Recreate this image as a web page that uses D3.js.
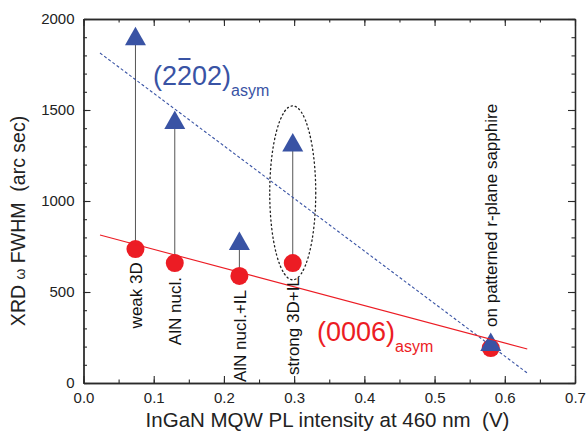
<!DOCTYPE html>
<html><head><meta charset="utf-8">
<script src="https://cdn.jsdelivr.net/npm/d3@7"></script>
<style>
html,body{margin:0;padding:0;background:#fff;}
svg{display:block;font-family:"Liberation Sans",Arial,Helvetica,sans-serif;}
</style></head>
<body>
<svg id="chart" width="586" height="440"></svg>
<script>
// ---- data ----
const samples = ["weak 3D", "AlN nucl.", "AlN nucl.+IL", "strong 3D+IL", "on patterned r-plane sapphire"];
const plIntensity = [0.074, 0.130, 0.222, 0.298, 0.580];
const fwhm0006 = [736, 659, 588, 659, 192];
const fwhm2202 = [1905, 1445, 780, 1321, 225];
const labelBottomValue = [300, 208, 5, 44, 308];   // y value where each rotated label starts
const fit0006 = [[0.0235, 813], [0.632, 187]];
const fit2202 = [[0.0235, 1813], [0.632, 55]];
const xTicks = [0, 0.1, 0.2, 0.3, 0.4, 0.5, 0.6, 0.7];
const xTickLabels = ["0.0", "0.1", "0.2", "0.3", "0.4", "0.5", "0.6", "0.7"];
const yTicks = [0, 500, 1000, 1500, 2000];
const highlightSample = 3;

const svg = d3.select("#chart");
const M = {left: 83.5, right: 575, top: 19, bottom: 383};
const x = d3.scaleLinear().domain([0, 0.7]).range([M.left, M.right]);
const y = d3.scaleLinear().domain([0, 2000]).range([M.bottom, M.top]);
const RED = "#ec1c24", BLUE = "#3953a4", AX = "#2a2a2a";

// ---- axes ----
function styleAxis(g){ g.select(".domain").attr("stroke", AX).attr("stroke-width", 1.3);
  g.selectAll(".tick line").attr("stroke", AX).attr("stroke-width", 1.1);
  g.selectAll("text").attr("fill", "#222").style("font-size", "15px").attr("font-family", null); }
const xMinor = d3.range(0, 0.7001, 0.05), yMinor = d3.range(0, 2000.1, 100);

svg.append("g").attr("transform", `translate(0,${M.bottom})`)
  .call(d3.axisBottom(x).tickValues(xMinor).tickSize(-3.5).tickFormat("").tickSizeOuter(0)).call(styleAxis);
svg.append("g").attr("transform", `translate(0,${M.bottom})`)
  .call(d3.axisBottom(x).tickValues(xTicks).tickSize(-7).tickPadding(9).tickFormat((d,i)=>xTickLabels[i]).tickSizeOuter(0)).call(styleAxis);
svg.append("g").attr("transform", `translate(0,${M.top})`)
  .call(d3.axisTop(x).tickValues(xMinor).tickSize(-3.5).tickFormat("").tickSizeOuter(0)).call(styleAxis);
svg.append("g").attr("transform", `translate(0,${M.top})`)
  .call(d3.axisTop(x).tickValues(xTicks).tickSize(-7).tickFormat("").tickSizeOuter(0)).call(styleAxis);
svg.append("g").attr("transform", `translate(${M.left},0)`)
  .call(d3.axisLeft(y).tickValues(yMinor).tickSize(-3.5).tickFormat("").tickSizeOuter(0)).call(styleAxis);
svg.append("g").attr("transform", `translate(${M.left},0)`)
  .call(d3.axisLeft(y).tickValues(yTicks).tickSize(-7).tickPadding(9).tickFormat(d3.format("d")).tickSizeOuter(0)).call(styleAxis);
svg.append("g").attr("transform", `translate(${M.right},0)`)
  .call(d3.axisRight(y).tickValues(yMinor).tickSize(-3.5).tickFormat("").tickSizeOuter(0)).call(styleAxis);
svg.append("g").attr("transform", `translate(${M.right},0)`)
  .call(d3.axisRight(y).tickValues(yTicks).tickSize(-7).tickFormat("").tickSizeOuter(0)).call(styleAxis);

// axis titles
svg.append("text").attr("x", 327.5).attr("y", 427)
  .attr("text-anchor", "middle").style("font-size", "20.5px").attr("fill", "#222")
  .text("InGaN MQW PL intensity at 460 nm\u00a0\u00a0(V)");
const yt = svg.append("text").attr("transform", `translate(25,${(M.top + M.bottom) / 2 + 20}) rotate(-90)`)
  .attr("text-anchor", "middle").style("font-size", "19.5px").attr("fill", "#222");
yt.append("tspan").text("XRD ");
yt.append("tspan").style("font-size", "14px").text("\u03c9");
yt.append("tspan").text(" FWHM\u00a0\u00a0(arc sec)");

// ---- connectors ----
const plot = svg.append("g");
plot.selectAll("line.conn").data(plIntensity).join("line").attr("class", "conn")
  .attr("x1", d => x(d)).attr("x2", d => x(d))
  .attr("y1", (d, i) => y(fwhm0006[i])).attr("y2", (d, i) => y(fwhm2202[i]))
  .attr("stroke", "#555").attr("stroke-width", 1);

// ellipse highlighting strong 3D+IL
const ex = x(plIntensity[highlightSample]);
const ey = (y(fwhm0006[highlightSample]) + y(fwhm2202[highlightSample])) / 2 - 10;
plot.append("ellipse").attr("cx", ex).attr("cy", ey).attr("rx", 23).attr("ry", 87)
  .attr("fill", "none").attr("stroke", "#222").attr("stroke-width", 1.3)
  .attr("stroke-dasharray", "1.3,3").attr("stroke-linecap", "round");

// circles (0006)
plot.selectAll("circle.p").data(plIntensity).join("circle").attr("class", "p")
  .attr("cx", d => x(d)).attr("cy", (d, i) => y(fwhm0006[i])).attr("r", 9).attr("fill", RED);
// triangles (2-202)
plot.selectAll("path.t").data(plIntensity).join("path").attr("class", "t")
  .attr("transform", (d, i) => `translate(${x(d)},${y(fwhm2202[i])})`)
  .attr("d", "M0,-9.5L10.5,9L-10.5,9Z").attr("fill", BLUE);

// fit lines
const line = d3.line().x(d => x(d[0])).y(d => y(d[1]));
plot.append("path").datum(fit2202).attr("d", line).attr("fill", "none")
  .attr("stroke", BLUE).attr("stroke-width", 1.1).attr("stroke-dasharray", "3,2.2");
plot.append("path").datum(fit0006).attr("d", line).attr("fill", "none")
  .attr("stroke", RED).attr("stroke-width", 1.1);

// sample labels
plot.selectAll("text.lab").data(samples).join("text").attr("class", "lab")
  .attr("transform", (d, i) => `translate(${x(plIntensity[i])},${y(labelBottomValue[i])}) rotate(-90)`)
  .attr("dy", "0.36em").style("font-size", "17px").attr("fill", "#111").text(d => d);

// series labels
function seriesLabel(px, py, main, color, barIndex) {
  const t = svg.append("text").attr("x", px).attr("y", py).attr("fill", color).style("font-size", "27px");
  t.append("tspan").text(main);
  t.append("tspan").attr("dy", 11).style("font-size", "16px").text("asym");
  if (barIndex != null) {
    const ext = t.node().getExtentOfChar(barIndex);
    svg.append("line").attr("x1", ext.x + 1.5).attr("x2", ext.x + ext.width - 1.5)
      .attr("y1", py - 26).attr("y2", py - 26).attr("stroke", color).attr("stroke-width", 2);
  }
}
seriesLabel(153, 85, "(2202)", BLUE, 2);
seriesLabel(317, 341, "(0006)", RED, null);
</script>
</body></html>
